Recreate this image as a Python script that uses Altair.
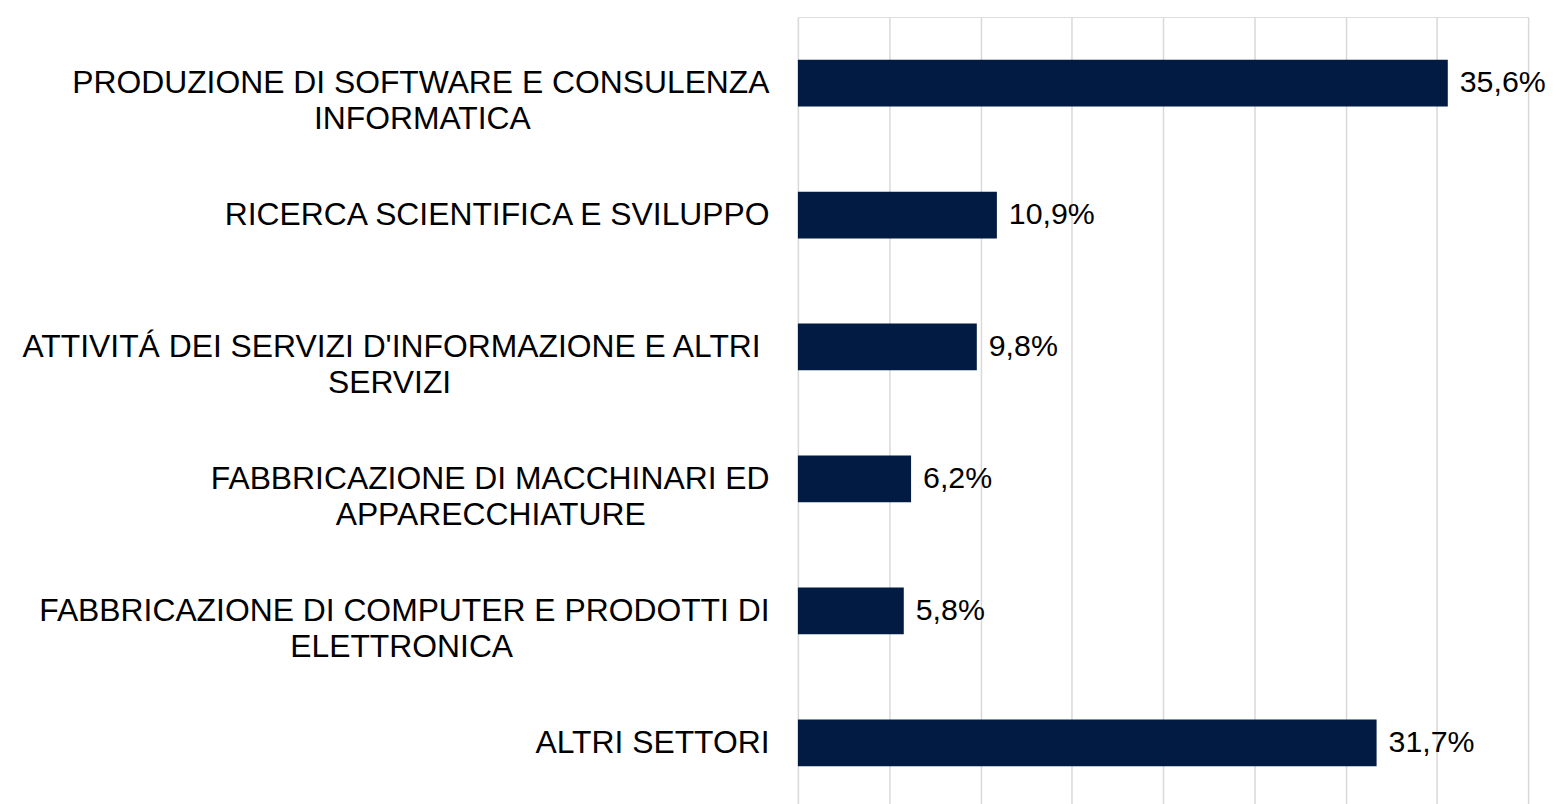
import altair as alt
import pandas as pd

# ---- data ----
categories = [
    "PRODUZIONE DI SOFTWARE E CONSULENZA\nINFORMATICA",
    "RICERCA SCIENTIFICA E SVILUPPO",
    "ATTIVITÁ DEI SERVIZI D'INFORMAZIONE E ALTRI \nSERVIZI",
    "FABBRICAZIONE DI MACCHINARI ED\nAPPARECCHIATURE",
    "FABBRICAZIONE DI COMPUTER E PRODOTTI DI\nELETTRONICA",
    "ALTRI SETTORI",
]
values = [35.6, 10.9, 9.8, 6.2, 5.8, 31.7]
grid_ticks = [0, 5, 10, 15, 20, 25, 30, 35, 40]

# ---- centre multi-line labels (Excel style) using Arial advance widths ----
ADV = {c: w for c, w in zip("ABCDEFGHIJKLMNOPQRSTUVWXYZ",
       [667, 667, 722, 722, 667, 611, 778, 722, 278, 500, 667, 556, 833,
        722, 778, 667, 778, 722, 667, 611, 722, 667, 944, 667, 667, 611])}
ADV.update({" ": 278, "'": 191, "Á": 667})
NBSP = "\u00a0"
ZWSP = "\u200b"  # keeps the padding from being trimmed


def centred(label):
    lines = label.split("\n")
    widths = [sum(ADV.get(ch, 600) for ch in ln) for ln in lines]
    wmax = max(widths)
    out = []
    for ln, w in zip(lines, widths):
        stripped = ln.rstrip(" ")
        trail = len(ln) - len(stripped)
        n = round((wmax - w) / 2 / 278) + trail
        out.append(stripped + (NBSP * n + ZWSP if n > 0 else ""))
    return "|".join(out)


df = pd.DataFrame({
    "cat": [centred(c) for c in categories],
    "value": values,
})

FONT = "Liberation Sans"

base = alt.Chart(df).encode(
    y=alt.Y(
        "cat:N",
        sort=None,
        title=None,
        scale=alt.Scale(paddingInner=0, paddingOuter=0),
        axis=alt.Axis(
            labelExpr="split(datum.label, '|')",
            labelFont=FONT,
            labelFontSize=32,
            labelColor="#000000",
            labelLineHeight=36,
            labelLimit=1000,
            labelPadding=29,
            labelAlign="right",
            labelBaseline="middle",
            ticks=False,
            tickSize=0,
            domain=False,
            grid=False,
        ),
    ),
    x=alt.X(
        "value:Q",
        title=None,
        scale=alt.Scale(domain=[0, 40], nice=False, zero=True),
        axis=alt.Axis(
            values=grid_ticks,
            labels=False,
            ticks=False,
            domain=False,
            grid=True,
            gridColor="#d9d9d9",
            gridWidth=1.5,
        ),
    ),
)

bars = base.mark_bar(size=47, color="#011b42")

labels = base.mark_text(
    align="left",
    baseline="middle",
    dx=12,
    fontSize=30.5,
    font=FONT,
    color="#000000",
).transform_calculate(
    txt="replace(format(datum.value, '.1f'), '.', ',') + '%'"
).encode(text="txt:N")

chart = (
    alt.layer(bars, labels)
    .properties(
        width=734,
        height=796,
        autosize=alt.AutoSizeParams(type="none"),
        padding={"left": 794, "top": 7, "right": 21, "bottom": 0},
    )
    .configure_view(stroke=None)
    .configure(background="#ffffff")
)

chart.save("out.html", embed_options={"renderer": "svg", "actions": False})
